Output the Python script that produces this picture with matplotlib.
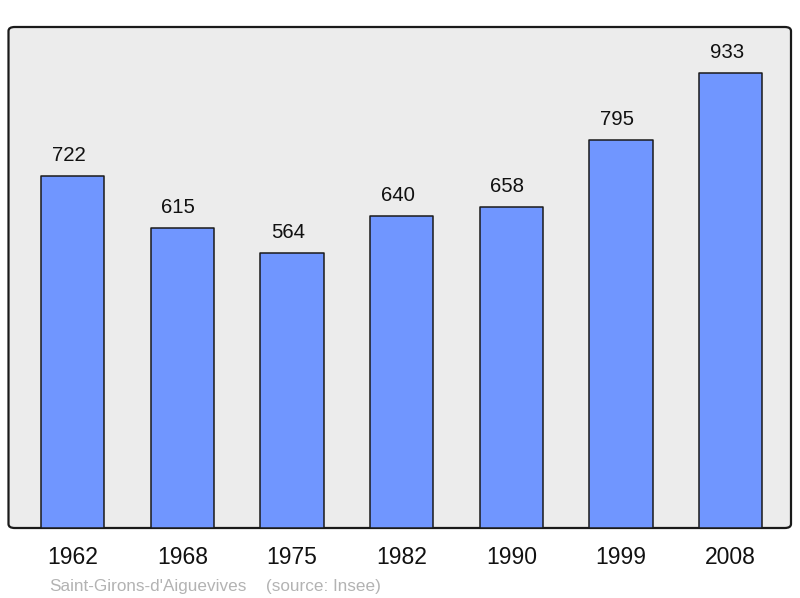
import matplotlib
matplotlib.use("Agg")
import matplotlib.pyplot as plt
from matplotlib.patches import FancyBboxPatch

plt.rcParams['font.family'] = ['Liberation Sans', 'DejaVu Sans']

# data
years = ["1962", "1968", "1975", "1982", "1990", "1999", "2008"]
population = [722, 615, 564, 640, 658, 795, 933]
commune = "Saint-Girons-d'Aiguevives"
source = "(source: Insee)"

W, H = 800, 598
fig = plt.figure(figsize=(W / 100, H / 100), dpi=100)
ax = fig.add_axes([8.5 / W, (H - 528) / H, (791 - 8.5) / W, (528 - 27) / H])

# rounded grey frame
ax.set_facecolor("none")
for s in ax.spines.values():
    s.set_visible(False)
frame = FancyBboxPatch((0, 0), 1, 1, boxstyle="round,pad=0,rounding_size=0.008",
                       transform=ax.transAxes, facecolor="#ececec",
                       edgecolor="#1a1a1a", linewidth=1.6, zorder=0, clip_on=False)
ax.add_patch(frame)

pos = range(len(years))
bars = ax.bar(pos, population, width=0.575, color="#7096ff",
              edgecolor="#1a1a1a", linewidth=1.1, zorder=2)
for b in bars:
    b.set_joinstyle("round")

ax.set_xlim(-0.585, 6.55)
ax.set_ylim(0, max(population) * 1.1)
ax.set_xticks([])
ax.set_yticks([])

for x, v, y in zip(pos, population, years):
    ax.annotate(str(v), (x, v), xytext=(-4, 20), textcoords="offset pixels",
                ha="center", va="center", fontsize=14.7, color="#111111")
    ax.annotate(y, (x, 0), xytext=(0, -30), textcoords="offset pixels",
                ha="center", va="center", fontsize=16.5, color="#111111",
                annotation_clip=False)

fig.text(49 / W, 1 - 586 / H, commune, ha="left", va="center",
         fontsize=12.3, color="#b3b3b3")
fig.text(266 / W, 1 - 586 / H, source, ha="left", va="center",
         fontsize=12.3, color="#b3b3b3")

fig.savefig("out.png", dpi=100)
